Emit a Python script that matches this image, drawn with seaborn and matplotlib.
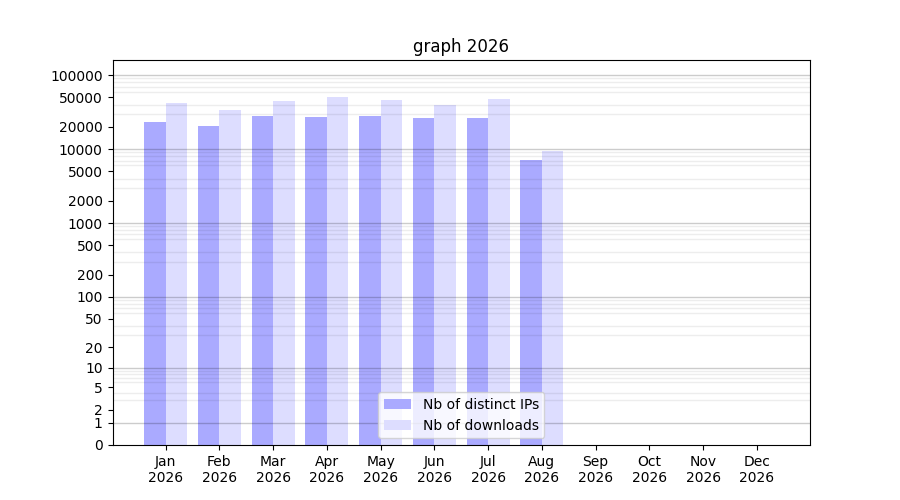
import numpy as np
import pandas as pd
import matplotlib
matplotlib.use("Agg")
import matplotlib.pyplot as plt
import seaborn as sns
from matplotlib.ticker import FixedLocator, FixedFormatter, NullFormatter

months = ["Jan", "Feb", "Mar", "Apr", "May", "Jun", "Jul", "Aug", "Sep", "Oct", "Nov", "Dec"]
year = "2026"
distinct_ips = [23200, 20500, 27900, 27100, 27900, 26200, 26200, 7100, 0, 0, 0, 0]
downloads = [41900, 33700, 44500, 50400, 45900, 39300, 47400, 9400, 0, 0, 0, 0]
series_names = ["Nb of distinct IPs", "Nb of downloads"]
series_colors = ["#aaaaff", "#ddddff"]
ytick_values = [0, 1, 2, 5, 10, 20, 50, 100, 200, 500, 1000, 2000, 5000,
                10000, 20000, 50000, 100000]

labels = [f"{m}\n{year}" for m in months]
df = pd.DataFrame({
    "month": labels * 2,
    "value": distinct_ips + downloads,
    "series": [series_names[0]] * len(months) + [series_names[1]] * len(months),
})

fig, ax = plt.subplots(figsize=(9, 5), dpi=100)
ax.set_yscale("function", functions=(lambda v: np.log10(1 + np.clip(v, 0, None)),
                                      lambda v: 10 ** v - 1))

sns.barplot(data=df, x="month", y="value", hue="series", order=labels,
            hue_order=series_names, palette=dict(zip(series_names, series_colors)),
            saturation=1, edgecolor="none", linewidth=0, width=0.8, ax=ax, zorder=1)

ax.set_xlim(-0.99, 11.99)
ax.set_ylim(0, 160000)

ax.yaxis.set_major_locator(FixedLocator(ytick_values))
ax.yaxis.set_major_formatter(FixedFormatter([str(v) for v in ytick_values]))
minor = [n * 10 ** k for k in range(0, 6) for n in range(2, 10) if n * 10 ** k < 160000]
ax.yaxis.set_minor_locator(FixedLocator(minor))
ax.yaxis.set_minor_formatter(NullFormatter())
ax.tick_params(axis="y", which="minor", length=0)
ax.grid(False)
ax.yaxis.grid(True, which="minor", color="#000000", alpha=0.07, linewidth=1, zorder=3)
for k in range(0, 6):
    ax.axhline(10 ** k, color="#000000", alpha=0.2, linewidth=1, zorder=3)

ax.set_xlabel("")
ax.set_ylabel("")
ax.set_title("graph 2026")
ax.legend(loc="lower center", title=None)

fig.savefig("out.png", dpi=100)
